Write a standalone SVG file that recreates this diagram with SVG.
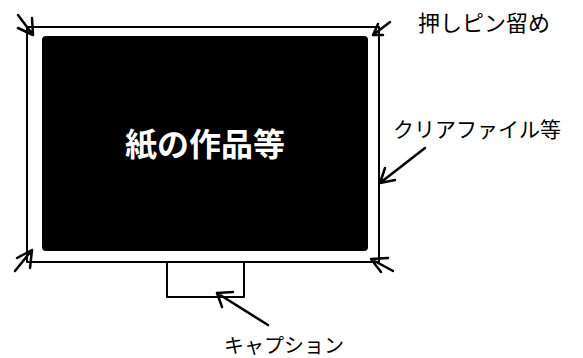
<svg xmlns="http://www.w3.org/2000/svg" width="583" height="358" viewBox="0 0 583 358">
<style>
.ln{fill:none;stroke:#000;stroke-width:2;stroke-linecap:round;stroke-linejoin:round}
.ar{fill:none;stroke:#000;stroke-width:2.5;stroke-linecap:round;stroke-linejoin:round}
.t{font-family:"Noto Sans CJK JP","Noto Sans",sans-serif;fill:#000}
</style>
<rect width="583" height="358" fill="#fff"/>
<g id="frame">
<rect x="27" y="27" width="352" height="235" class="ln"/>
</g>
<g id="artwork">
<rect x="42" y="36" width="326" height="215" rx="4" fill="#000"/>
<text x="205" y="156" text-anchor="middle" class="t" style="fill:#fff;font-size:32px;font-weight:bold">紙の作品等</text>
</g>
<g id="caption-box">
<rect x="167" y="262" width="77" height="35" class="ln"/>
</g>
<g id="label-pin"><text x="418" y="31" class="t" style="font-size:22px">押しピン留め</text></g>
<g id="label-file"><text x="393" y="137" class="t" style="font-size:21px">クリアファイル等</text></g>
<g id="label-caption"><text x="224" y="353" class="t" style="font-size:20px">キャプション</text></g>
<g id="connectors">
<path class="ar" d="M18,15 L33,35 M18,28 L33,35 L32,18"/>
<path class="ar" d="M390,22 L373,35 M383,35 L373,35 L378,24"/>
<path class="ar" d="M15,271 L32,250 M17,258 L32,250 L30,268"/>
<path class="ar" d="M393,271 L371,259 M381,272 L371,259 L388,258"/>
<path class="ar" d="M425,148 L380,183 M395,180 L380,183 L385,168"/>
<path class="ar" d="M268,325 L217,293 M233,292 L217,293 L222,307"/>
</g>
</svg>
